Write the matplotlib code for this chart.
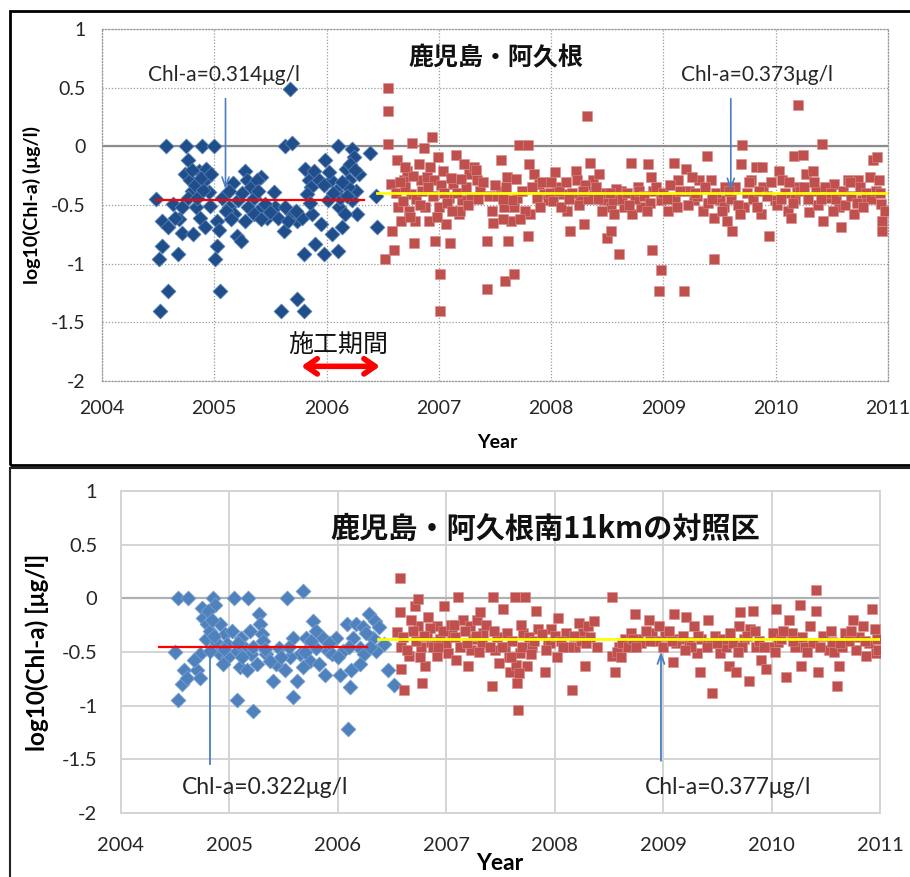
import numpy as np
import matplotlib.pyplot as plt
from matplotlib.patches import Rectangle

plt.rcParams['font.family'] = ['Lato', 'Noto Sans CJK JP', 'DejaVu Sans']

# ---- data: (decimal year, log10 Chl-a) ----
# upper panel: Kagoshima Akune
akune_before = [
    (2004.48, -0.45), (2004.57, 0.00), (2004.53, -0.64), (2004.59, -0.69), (2004.53, -0.85),
    (2004.51, -0.96), (2004.59, -1.23), (2004.52, -1.40), (2004.68, -0.92), (2004.69, -0.62),
    (2004.71, -0.74), (2004.63, -0.49), (2004.75, 0.00), (2004.77, -0.12), (2004.74, -0.24),
    (2004.78, -0.29), (2004.80, -0.38), (2004.81, -0.75), (2004.84, -0.52), (2004.87, -0.61),
    (2004.89, 0.00), (2004.86, -0.21), (2004.92, -0.29), (2004.93, -0.19), (2004.95, -0.39),
    (2004.92, -0.69), (2004.96, -0.51), (2005.00, 0.00), (2005.02, -0.64), (2005.04, -0.71),
    (2005.02, -0.85), (2005.01, -0.96), (2005.05, -1.23), (2005.07, -0.44), (2005.13, -0.52),
    (2005.17, -0.31), (2005.20, -0.76), (2005.24, -0.81), (2005.21, -0.46), (2005.27, -0.21),
    (2005.29, -0.29), (2005.33, -0.35), (2005.35, -0.44), (2005.39, -0.55), (2005.42, -0.26),
    (2005.38, -0.29), (2005.47, -0.61), (2005.53, -0.39), (2005.54, -0.52), (2005.57, -0.61),
    (2005.62, -0.72), (2005.63, 0.00), (2005.69, 0.03), (2005.67, 0.49), (2005.69, -0.58),
    (2005.74, -0.64), (2005.78, -0.61), (2005.80, -0.92), (2005.81, -0.19), (2005.84, -0.29),
    (2005.86, -0.35), (2005.87, -0.58), (2005.90, -0.83), (2005.95, -0.66), (2005.98, -0.92),
    (2005.99, -0.12), (2006.01, -0.46), (2006.04, -0.29), (2006.05, -0.75), (2006.10, -0.89),
    (2006.10, 0.00), (2006.11, -0.52), (2006.14, -0.69), (2006.17, -0.19), (2006.20, -0.29),
    (2006.23, -0.02), (2006.24, -0.09), (2006.26, -0.38), (2006.27, -0.58), (2006.29, -0.24),
    (2006.39, -0.06), (2006.44, -0.42), (2006.45, -0.69), (2005.59, -1.40), (2005.74, -1.30),
    (2005.80, -1.40), (2004.77, -0.44), (2004.65, -0.61), (2004.71, -0.52), (2005.13, -0.38),
    (2005.18, -0.58), (2005.27, -0.64), (2005.30, -0.52), (2005.39, -0.38), (2005.45, -0.49),
    (2005.50, -0.56), (2005.63, -0.52), (2005.66, -0.64), (2005.73, -0.55), (2005.83, -0.41),
    (2005.89, -0.21), (2005.93, -0.29), (2006.08, -0.38), (2006.12, -0.44), (2006.16, -0.58),
    (2006.19, -0.35), (2006.23, -0.46), (2006.21, -0.15),
    (2004.80, -0.20), (2004.83, -0.33), (2004.85, -0.44), (2004.90, -0.37), (2004.88, -0.27),
    (2004.97, -0.24), (2005.98, -0.33), (2006.02, -0.22), (2006.06, -0.40), (2006.14, -0.30),
    (2006.18, -0.42), (2006.25, -0.20), (2005.85, -0.48), (2005.35, -0.58), (2005.42, -0.62),
    (2005.25, -0.40), (2005.10, -0.55), (2005.15, -0.62),
]
akune_after = [
    (2006.55, 0.50), (2006.55, 0.30), (2006.55, 0.02), (2006.52, -0.96), (2006.60, -0.88),
    (2006.57, -0.32), (2006.58, -0.72), (2006.63, -0.12), (2006.64, -0.52), (2006.66, -0.64),
    (2006.69, -0.29), (2006.72, -0.21), (2006.76, 0.03), (2006.78, -0.82), (2006.79, -0.64),
    (2006.75, -0.41), (2006.82, -0.15), (2006.84, -0.29), (2006.87, -0.01), (2006.89, -0.26),
    (2006.91, -0.64), (2006.94, 0.08), (2006.96, -0.29), (2006.97, -0.81), (2006.99, -0.09),
    (2007.00, -0.52), (2007.01, -1.09), (2007.01, -1.40), (2007.04, -0.21), (2007.06, -0.66),
    (2007.10, -0.82), (2007.09, -0.44), (2007.15, -0.07), (2007.13, -0.32), (2007.18, -0.58),
    (2007.21, -0.46), (2007.22, -0.15), (2007.27, -0.24), (2007.31, -0.18), (2007.34, -0.29),
    (2007.37, -0.38), (2007.43, -0.81), (2007.45, -0.42), (2007.43, -1.22), (2007.48, -0.65),
    (2007.55, -0.12), (2007.55, -0.38), (2007.58, -0.52), (2007.59, -1.15), (2007.62, -0.81),
    (2007.61, -0.26), (2007.64, -0.64), (2007.67, -1.09), (2007.67, -0.52), (2007.70, -0.44),
    (2007.71, 0.01), (2007.79, 0.01), (2007.79, -0.76), (2007.80, -0.15), (2007.81, -0.58),
    (2007.85, -0.24), (2007.89, -0.32), (2007.94, -0.41), (2007.97, -0.46), (2008.03, -0.22),
    (2008.05, -0.35), (2008.11, -0.41), (2008.14, -0.55), (2008.17, -0.72), (2008.22, -0.21),
    (2008.23, -0.29), (2008.26, -0.44), (2008.29, -0.66), (2008.32, 0.26), (2008.35, -0.14),
    (2008.37, -0.29), (2008.38, -0.38), (2008.43, -0.24), (2008.47, -0.46), (2008.50, -0.78),
    (2008.53, -0.72), (2008.53, -0.52), (2008.56, -0.58), (2008.60, -0.92), (2008.62, -0.38),
    (2008.65, -0.52), (2008.71, -0.14), (2008.72, -0.58), (2008.77, -0.35), (2008.80, -0.52),
    (2008.86, -0.15), (2008.89, -0.26), (2008.90, -0.88), (2008.91, -0.38), (2008.98, -1.05),
    (2008.96, -1.23), (2008.98, -0.46), (2009.04, -0.55), (2009.09, -0.14), (2009.13, -0.29),
    (2009.18, -1.23), (2009.20, -0.19), (2009.23, -0.38), (2009.27, -0.46), (2009.32, -0.29),
    (2009.35, -0.55), (2009.39, -0.08), (2009.42, -0.29), (2009.45, -0.61), (2009.45, -0.96),
    (2009.50, -0.46), (2009.54, -0.52), (2009.57, -0.64), (2009.61, -0.72), (2009.64, -0.35),
    (2009.69, -0.15), (2009.70, 0.01), (2009.72, -0.52), (2009.78, -0.29), (2009.82, -0.18),
    (2009.87, -0.58), (2009.88, -0.18), (2009.89, -0.35), (2009.94, -0.76), (2009.99, -0.46),
    (2010.03, -0.21), (2010.06, -0.29), (2010.11, -0.55), (2010.14, -0.61), (2010.16, -0.08),
    (2010.19, -0.35), (2010.20, 0.35), (2010.24, -0.07), (2010.27, -0.24), (2010.30, -0.56),
    (2010.33, -0.21), (2010.36, -0.38), (2010.41, 0.02), (2010.42, -0.64), (2010.47, -0.44),
    (2010.52, -0.32), (2010.56, -0.52), (2010.58, -0.69), (2010.64, -0.29), (2010.70, -0.58),
    (2010.73, -0.29), (2010.77, -0.46), (2010.84, -0.26), (2010.87, -0.12), (2010.90, -0.09),
    (2010.92, -0.29), (2010.94, -0.49), (2010.95, -0.64), (2010.95, -0.72),
    (2006.62, -0.40), (2006.68, -0.47), (2006.70, -0.35), (2006.73, -0.55), (2006.77, -0.25),
    (2006.80, -0.45), (2006.85, -0.38), (2006.88, -0.52), (2006.92, -0.18), (2006.95, -0.42),
    (2006.98, -0.60), (2007.02, -0.33), (2007.07, -0.48), (2007.11, -0.27), (2007.16, -0.40),
    (2007.19, -0.55), (2007.24, -0.35), (2007.29, -0.44), (2007.33, -0.20), (2007.39, -0.30),
    (2007.47, -0.55), (2007.52, -0.42), (2007.57, -0.62), (2007.60, -0.35), (2007.65, -0.46),
    (2007.69, -0.28), (2007.74, -0.38), (2007.77, -0.55), (2007.83, -0.35), (2007.87, -0.44),
    (2007.92, -0.30), (2007.99, -0.40), (2008.02, -0.47), (2008.07, -0.38), (2008.09, -0.52),
    (2008.13, -0.30), (2008.19, -0.40), (2008.25, -0.50), (2008.30, -0.33), (2008.33, -0.45),
    (2008.40, -0.35), (2008.45, -0.55), (2008.49, -0.40), (2008.55, -0.46), (2008.58, -0.36),
    (2008.63, -0.45), (2008.68, -0.40), (2008.75, -0.45), (2008.78, -0.38), (2008.83, -0.42),
    (2008.88, -0.48), (2008.93, -0.35), (2009.00, -0.40), (2009.06, -0.33), (2009.10, -0.45),
    (2009.15, -0.38), (2009.22, -0.50), (2009.25, -0.26), (2009.30, -0.42), (2009.37, -0.35),
    (2009.40, -0.48), (2009.47, -0.40), (2009.52, -0.55), (2009.55, -0.35), (2009.60, -0.45),
    (2009.66, -0.50), (2009.74, -0.40), (2009.76, -0.30), (2009.80, -0.45), (2009.85, -0.38),
    (2009.92, -0.42), (2009.96, -0.30), (2010.01, -0.50), (2010.08, -0.40), (2010.12, -0.30),
    (2010.17, -0.45), (2010.22, -0.38), (2010.29, -0.45), (2010.34, -0.30), (2010.38, -0.50),
    (2010.44, -0.35), (2010.49, -0.40), (2010.54, -0.45), (2010.60, -0.38), (2010.62, -0.50),
    (2010.67, -0.42), (2010.72, -0.48), (2010.75, -0.35), (2010.80, -0.40), (2010.85, -0.45),
    (2010.89, -0.38), (2010.97, -0.55),
    (2006.65, -0.30), (2006.70, -0.18), (2006.74, -0.60), (2006.83, -0.50), (2006.90, -0.35),
    (2007.05, -0.40), (2007.12, -0.55), (2007.20, -0.28), (2007.26, -0.50), (2007.35, -0.45),
    (2007.50, -0.33), (2007.57, -0.45), (2007.72, -0.62), (2007.90, -0.52), (2008.00, -0.30),
    (2008.16, -0.45), (2008.28, -0.38), (2008.42, -0.45), (2008.52, -0.40), (2008.69, -0.50),
    (2008.85, -0.55), (2009.03, -0.45), (2009.12, -0.52), (2009.28, -0.40), (2009.43, -0.45),
    (2009.58, -0.38), (2009.68, -0.58), (2009.83, -0.52), (2010.05, -0.45), (2010.15, -0.48),
    (2010.25, -0.35), (2010.40, -0.45), (2010.51, -0.55), (2010.66, -0.30), (2010.78, -0.52),
    (2010.93, -0.40),
]

# lower panel: control site 11 km south of Akune
control_before = [
    (2004.53, 0.00), (2004.62, 0.00), (2004.50, -0.50), (2004.53, -0.95), (2004.58, -0.67),
    (2004.56, -0.80), (2004.61, -0.74), (2004.70, -0.67), (2004.73, -0.74), (2004.73, -0.52),
    (2004.75, -0.09), (2004.76, -0.18), (2004.79, -0.24), (2004.78, -0.38), (2004.82, -0.30),
    (2004.85, 0.00), (2004.87, -0.06), (2004.88, -0.41), (2004.91, -0.24), (2004.91, -0.52),
    (2004.96, -0.33), (2004.98, -0.43), (2004.99, -0.55), (2005.04, 0.00), (2005.07, -0.95),
    (2005.10, -0.64), (2005.11, -0.37), (2005.14, -0.46), (2005.17, 0.00), (2005.19, -0.30),
    (2005.22, -1.05), (2005.20, -0.52), (2005.25, -0.61), (2005.27, -0.15), (2005.28, -0.24),
    (2005.30, -0.33), (2005.31, -0.40), (2005.34, -0.52), (2005.40, -0.77), (2005.43, -0.61),
    (2005.53, 0.00), (2005.51, -0.67), (2005.59, -0.37), (2005.59, -0.92), (2005.62, -0.77),
    (2005.65, -0.52), (2005.68, 0.07), (2005.71, -0.37), (2005.74, -0.58), (2005.77, -0.21),
    (2005.80, -0.30), (2005.86, -0.37), (2005.88, -0.71), (2005.91, -0.49), (2005.95, -0.52),
    (2006.02, -0.71), (2006.08, -0.24), (2006.09, -1.22), (2006.11, -0.83), (2006.12, -0.67),
    (2006.14, -0.37), (2006.17, -0.24), (2006.20, -0.46), (2006.23, -0.27), (2006.24, -0.52),
    (2006.29, -0.15), (2006.34, -0.21), (2006.38, -0.27), (2006.43, -0.43), (2006.46, -0.67),
    (2006.52, -0.81), (2004.67, -0.57), (2004.82, -0.49), (2004.94, -0.61), (2005.07, -0.49),
    (2005.16, -0.67), (2005.37, -0.58), (2005.46, -0.46), (2005.56, -0.55), (2005.68, -0.64),
    (2005.80, -0.46), (2005.83, -0.61), (2005.98, -0.37), (2006.05, -0.49), (2006.20, -0.61),
    (2006.32, -0.37), (2006.35, -0.49),
    (2004.80, -0.12), (2004.84, -0.20), (2004.86, -0.35), (2005.02, -0.30), (2005.08, -0.42),
    (2005.22, -0.45), (2005.33, -0.47), (2005.48, -0.55), (2005.55, -0.45), (2005.70, -0.50),
    (2005.75, -0.40), (2005.92, -0.42), (2006.00, -0.55), (2006.10, -0.45), (2006.26, -0.32),
    (2006.30, -0.45), (2004.95, -0.47), (2005.12, -0.55),
]
control_after = [
    (2006.57, 0.19), (2006.57, -0.13), (2006.55, -0.31), (2006.58, -0.45), (2006.58, -0.66),
    (2006.61, -0.85), (2006.66, -0.54), (2006.71, -0.07), (2006.74, -0.26), (2006.74, -0.01),
    (2006.77, -0.45), (2006.78, -0.79), (2006.80, -0.63), (2006.83, -0.17), (2006.86, -0.41),
    (2006.91, -0.26), (2006.91, -0.54), (2006.98, -0.07), (2007.02, -0.51), (2007.05, -0.32),
    (2007.09, -0.57), (2007.11, 0.01), (2007.15, -0.20), (2007.20, -0.63), (2007.22, -0.26),
    (2007.25, -0.38), (2007.28, -0.20), (2007.31, -0.13), (2007.34, -0.32), (2007.42, -0.82),
    (2007.43, 0.01), (2007.45, -0.48), (2007.49, -0.60), (2007.52, -0.10), (2007.56, -0.32),
    (2007.59, -0.69), (2007.63, 0.01), (2007.66, -1.04), (2007.65, -0.79), (2007.68, -0.51),
    (2007.71, -0.32), (2007.73, 0.01), (2007.74, -0.63), (2007.79, -0.45), (2007.83, -0.12),
    (2007.85, -0.29), (2007.91, -0.69), (2007.94, -0.41), (2007.97, -0.29), (2008.02, -0.55),
    (2008.03, -0.18), (2008.10, -0.32), (2008.16, -0.85), (2008.19, -0.45), (2008.22, -0.23),
    (2008.26, -0.32), (2008.28, -0.63), (2008.31, -0.26), (2008.36, -0.21), (2008.39, -0.45),
    (2008.53, 0.01), (2008.53, -0.54), (2008.56, -0.69), (2008.59, -0.45), (2008.65, -0.38),
    (2008.70, -0.32), (2008.74, -0.15), (2008.77, -0.38), (2008.87, -0.20), (2008.90, -0.32),
    (2008.96, -0.26), (2009.02, -0.35), (2009.09, -0.59), (2009.10, -0.15), (2009.15, -0.38),
    (2009.21, -0.17), (2009.24, -0.41), (2009.28, -0.26), (2009.31, -0.51), (2009.34, -0.69),
    (2009.41, -0.20), (2009.45, -0.88), (2009.48, -0.35), (2009.52, -0.51), (2009.58, -0.45),
    (2009.61, -0.63), (2009.67, -0.69), (2009.70, -0.26), (2009.71, -0.13), (2009.75, -0.38),
    (2009.79, -0.77), (2009.80, -0.29), (2009.83, -0.12), (2009.86, -0.45), (2009.90, -0.57),
    (2009.95, -0.66), (2010.01, -0.32), (2010.04, -0.10), (2010.06, -0.41), (2010.13, -0.73),
    (2010.16, -0.20), (2010.19, -0.32), (2010.26, -0.06), (2010.27, -0.63), (2010.31, -0.45),
    (2010.35, -0.26), (2010.41, 0.08), (2010.41, -0.12), (2010.43, -0.69), (2010.53, -0.48),
    (2010.56, -0.41), (2010.60, -0.82), (2010.62, -0.63), (2010.68, -0.32), (2010.75, -0.20),
    (2010.78, -0.48), (2010.84, -0.26), (2010.87, -0.54), (2010.93, -0.10), (2010.95, -0.29),
    (2010.96, -0.51),
    (2006.60, -0.36), (2006.64, -0.48), (2006.69, -0.30), (2006.72, -0.40), (2006.76, -0.55),
    (2006.82, -0.35), (2006.85, -0.28), (2006.88, -0.45), (2006.94, -0.38), (2006.97, -0.30),
    (2007.00, -0.42), (2007.04, -0.25), (2007.08, -0.36), (2007.13, -0.45), (2007.17, -0.30),
    (2007.23, -0.48), (2007.27, -0.35), (2007.33, -0.42), (2007.37, -0.25), (2007.40, -0.45),
    (2007.47, -0.36), (2007.54, -0.45), (2007.58, -0.55), (2007.61, -0.40), (2007.64, -0.62),
    (2007.67, -0.70), (2007.70, -0.45), (2007.76, -0.36), (2007.81, -0.40), (2007.88, -0.33),
    (2007.96, -0.42), (2008.00, -0.35), (2008.06, -0.40), (2008.13, -0.45), (2008.24, -0.40),
    (2008.33, -0.36), (2008.57, -0.50), (2008.62, -0.42), (2008.68, -0.45), (2008.72, -0.38),
    (2008.80, -0.42), (2008.84, -0.30), (2008.93, -0.40), (2009.05, -0.30), (2009.12, -0.42),
    (2009.18, -0.35), (2009.26, -0.45), (2009.35, -0.38), (2009.44, -0.42), (2009.55, -0.38),
    (2009.64, -0.42), (2009.73, -0.45), (2009.77, -0.35), (2009.88, -0.40), (2009.98, -0.45),
    (2010.09, -0.38), (2010.22, -0.45), (2010.28, -0.36), (2010.38, -0.42), (2010.47, -0.35),
    (2010.58, -0.50), (2010.65, -0.45), (2010.71, -0.40), (2010.81, -0.36), (2010.90, -0.42),
    (2010.98, -0.48),
    (2006.67, -0.20), (2006.79, -0.35), (2006.92, -0.45), (2007.07, -0.25), (2007.19, -0.42),
    (2007.30, -0.50), (2007.44, -0.30), (2007.51, -0.45), (2007.60, -0.55), (2007.69, -0.25),
    (2007.78, -0.52), (2007.92, -0.48), (2008.08, -0.45), (2008.18, -0.35), (2008.29, -0.42),
    (2008.61, -0.55), (2008.75, -0.45), (2008.88, -0.40), (2009.00, -0.45), (2009.08, -0.40),
    (2009.20, -0.48), (2009.32, -0.35), (2009.40, -0.45), (2009.50, -0.42), (2009.62, -0.32),
    (2009.69, -0.50), (2009.85, -0.30), (2009.93, -0.45), (2010.03, -0.50), (2010.11, -0.30),
    (2010.20, -0.40), (2010.33, -0.50), (2010.45, -0.45), (2010.55, -0.30), (2010.63, -0.42),
    (2010.73, -0.30), (2010.86, -0.40), (2010.97, -0.38),
]

# mean lines: (start year, end year, level)
akune_mean_before = (2004.48, 2006.33, -0.455)
akune_mean_after = (2006.45, 2011.0, -0.40)
control_mean_before = (2004.35, 2006.27, -0.455)
control_mean_after = (2006.37, 2011.05, -0.375)

years = [2004, 2005, 2006, 2007, 2008, 2009, 2010, 2011]
yticks = [-2, -1.5, -1, -0.5, 0, 0.5, 1]
ytick_labels = ['-2', '-1.5', '-1', '-0.5', '0', '0.5', '1']

W, H = 910, 877
fig = plt.figure(figsize=(W / 100, H / 100), dpi=100)

def fig_rect(x0, y0, x1, y1):
    return [x0 / W, 1 - y1 / H, (x1 - x0) / W, (y1 - y0) / H]

# panel frames
fig.patches.append(Rectangle((10 / W, 1 - 465 / H), 905 / W, 454 / H, transform=fig.transFigure,
                             fill=False, edgecolor='black', lw=2))
fig.patches.append(Rectangle((10 / W, -0.01), 905 / W, 1 - 468 / H + 0.01, transform=fig.transFigure,
                             fill=False, edgecolor='#222222', lw=1.5))

ax1 = fig.add_axes(fig_rect(102, 29, 888, 381))
ax2 = fig.add_axes(fig_rect(121, 491, 880, 813))

blue_dark = '#1F4E8A'
blue_light = '#4F81BD'
red = '#C0504D'
arrow_blue = '#4A7EC0'
cjk = ['Noto Sans CJK JP', 'DejaVu Sans']


def setup(ax, dotted, tick_size, pad_x, pad_y):
    ax.set_xlim(2004, 2011)
    ax.set_ylim(-2, 1)
    ax.set_xticks(years)
    ax.set_yticks(yticks)
    ax.set_yticklabels(ytick_labels)
    ax.tick_params(length=0, labelsize=tick_size, colors='#262626')
    ax.tick_params(axis='x', pad=pad_x)
    ax.tick_params(axis='y', pad=pad_y)
    if dotted:
        ax.grid(True, color='#9a9a9a', lw=0.9, ls=(0, (1, 1.5)))
        for s in ax.spines.values():
            s.set_color('#9a9a9a')
            s.set_linestyle((0, (1, 1.5)))
            s.set_linewidth(0.9)
        ax.axhline(0, color='#8c8c8c', lw=1.6, zorder=1)
    else:
        ax.grid(True, color='#d4d4d4', lw=1.4)
        for s in ax.spines.values():
            s.set_color('#d4d4d4')
            s.set_linewidth(1.4)
        ax.axhline(0, color='#b0b0b0', lw=1.6, zorder=1)
    ax.set_axisbelow(True)


# ---- upper panel ----
setup(ax1, True, 14, 14, 12)
bx, by = np.array(akune_before).T
rx, ry = np.array(akune_after).T
ax1.scatter(bx, by, marker='D', s=58, color=blue_dark, edgecolor='#5d86bb', lw=0.5, zorder=3)
ax1.scatter(rx, ry, marker='s', s=62, color=red, edgecolor='#d98c8a', lw=0.4, zorder=3)
ax1.plot(akune_mean_before[:2], [akune_mean_before[2]] * 2, color='#FF0000', lw=1.6, zorder=4)
ax1.plot(akune_mean_after[:2], [akune_mean_after[2]] * 2, color='#FFFF00', lw=2.0, zorder=4)

ax1.annotate('', xy=(2005.10, -0.39), xytext=(2005.10, 0.43),
             arrowprops=dict(arrowstyle='->,head_length=0.7,head_width=0.25', color=arrow_blue, lw=1.2), zorder=5)
ax1.annotate('', xy=(2009.60, -0.40), xytext=(2009.60, 0.43),
             arrowprops=dict(arrowstyle='->,head_length=0.7,head_width=0.25', color=arrow_blue, lw=1.2), zorder=5)
ax1.text(2005.09, 0.61, 'Chl-a=0.314μg/l', ha='center', va='center', fontsize=15, color='#262626', zorder=6)
ax1.text(2009.83, 0.61, 'Chl-a=0.373μg/l', ha='center', va='center', fontsize=15, color='#262626', zorder=6)
ax1.text(2007.51, 0.75, '鹿児島・阿久根', ha='center', va='center', fontsize=18, fontweight='bold',
         family=cjk, color='#111111')
ax1.text(2006.10, -1.69, '施工期間', ha='center', va='center', fontsize=18, family=cjk, color='#111111')
ax1.annotate('', xy=(2006.50, -1.875), xytext=(2005.75, -1.875),
             arrowprops=dict(arrowstyle='<->,head_length=0.8,head_width=0.55', color='#FF0000', lw=4))
ax1.set_ylabel('log10(Chl-a) (μg/l)', fontsize=14, fontweight='bold')
ax1.yaxis.set_label_coords(-(102 - 41) / (888 - 102), 0.5)
ax1.set_xlabel('Year', fontsize=14, fontweight='bold')
ax1.xaxis.set_label_coords((497 - 102) / (888 - 102), -(434 - 381) / (381 - 29))

# ---- lower panel ----
setup(ax2, False, 14.5, 17, 17)
bx, by = np.array(control_before).T
rx, ry = np.array(control_after).T
ax2.scatter(bx, by, marker='D', s=58, color=blue_light, edgecolor='#7ea3d1', lw=0.5, zorder=3)
ax2.scatter(rx, ry, marker='s', s=56, color=red, edgecolor='#d98c8a', lw=0.4, zorder=3)
ax2.plot(control_mean_before[:2], [control_mean_before[2]] * 2, color='#FF0000', lw=1.6, zorder=4)
ax2.plot(control_mean_after[:2], [control_mean_after[2]] * 2, color='#FFFF00', lw=2.0, zorder=4)

ax2.plot([2004.82, 2004.82], [-0.56, -1.54], color=arrow_blue, lw=1.3, zorder=5)
ax2.annotate('', xy=(2008.98, -0.47), xytext=(2008.98, -1.54),
             arrowprops=dict(arrowstyle='->,head_length=0.7,head_width=0.25', color=arrow_blue, lw=1.3), zorder=5)
ax2.text(2005.33, -1.76, 'Chl-a=0.322μg/l', ha='center', va='center', fontsize=16.5, color='#262626')
ax2.text(2009.60, -1.76, 'Chl-a=0.377μg/l', ha='center', va='center', fontsize=16.5, color='#262626')
ax2.text(2007.91, 0.65, '鹿児島・阿久根南11kmの対照区', ha='center', va='center', fontsize=21, fontweight='bold',
         family=cjk, color='#111111')
ax2.set_ylabel('log10(Chl-a) [μg/l]', fontsize=17.5, fontweight='bold')
ax2.yaxis.set_label_coords(-(121 - 49) / (880 - 121), 0.5)
ax2.set_xlabel('Year', fontsize=16.5, fontweight='bold')
ax2.xaxis.set_label_coords((500 - 121) / (880 - 121), -(853 - 813) / (813 - 491))

fig.savefig('out.png', dpi=100)
